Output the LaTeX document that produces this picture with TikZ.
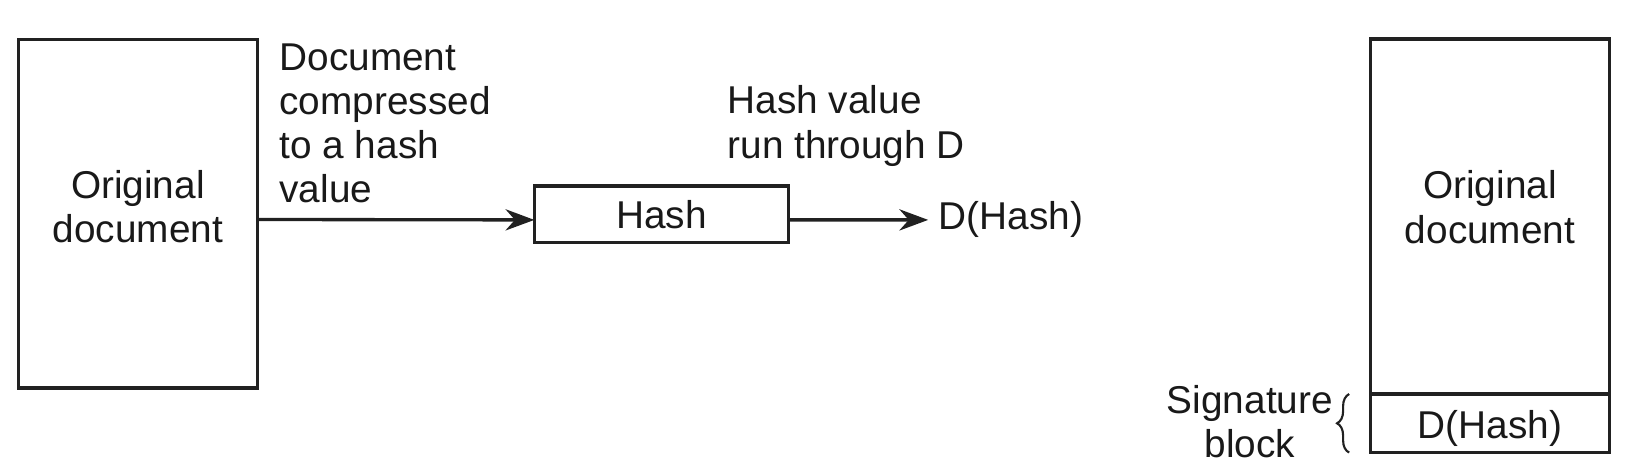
\documentclass[tikz,border=0pt]{standalone}
\usepackage{fontspec}
\setmainfont{Liberation Sans}
\usetikzlibrary{arrows.meta, positioning, decorations.pathreplacing}

\begin{document}
\begin{tikzpicture}[
  docbox/.style={rectangle, draw=black!87, line width=1.1pt, minimum width=2.77cm,
    outer sep=0pt, align=center, text=black!90, font=\fontsize{12.8}{14.6}\selectfont},
  note/.style={align=left, text=black!90, font=\fontsize{12.8}{14.6}\selectfont},
  arr/.style={-{Stealth[length=9.5pt, width=7pt]}, line width=1.1pt, black!87},
  brc/.style={decorate, decoration={brace, amplitude=4pt}, line width=0.7pt, black!87}
]
\useasboundingbox (0,0) rectangle (19.03,5.452);
% === Left: original document ===
\node[docbox, minimum height=4.04cm, text depth=0.17cm] (orig) at (1.60,2.97) {Original\\document};
\node[note, anchor=north west] (cmpr) at (3.12,5.07)
  {Document\\compressed\\to a hash\\value};
% === Middle: hash and its encryption ===
\node[docbox, minimum width=2.95cm, minimum height=0.655cm] (hash) at (7.675,2.965) {Hash};
\node[note, anchor=north west] (runD) at (8.32,4.58) {Hash value\\run through D};
\node[note, anchor=west] (dout) at (10.77,2.90) {D(Hash)};
% === Right: signed document ===
\node[docbox, minimum height=4.12cm, text depth=0.22cm] (rdoc) at (17.29,2.94) {Original\\document};
\node[docbox, minimum height=0.68cm, inner ysep=0pt, text height=0.45cm, text depth=0.095cm,
  below=0pt of rdoc] (dsig) {D(Hash)};
\node[note, align=center, anchor=east] (sig) at (15.59,0.56) {Signature\\block};
% === Arrows and brace ===
\draw[arr] ([yshift=-0.065cm]orig.east) -- ([yshift=-0.065cm]hash.west);
\draw[arr] ([yshift=-0.065cm]hash.east) -- (dout.west);
\draw[brc] ([xshift=-0.25cm]dsig.south west) -- ([xshift=-0.25cm]dsig.north west);
\end{tikzpicture}
\end{document}
